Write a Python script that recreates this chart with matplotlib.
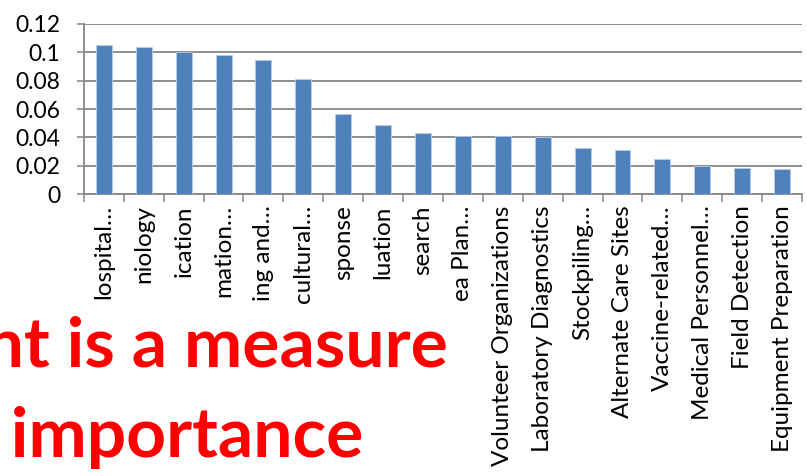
import matplotlib.pyplot as plt
from matplotlib.ticker import FixedLocator, NullFormatter

# category labels as they show under the axis (the first ten run under the caption box)
categories = ["lospital…", "niology", "ication", "mation…", "ing and…",
              "cultural…", "sponse", "luation", "search", "ea Plan…",
              "Volunteer Organizations", "Laboratory Diagnostics",
              "Stockpiling…", "Alternate Care Sites", "Vaccine-related…",
              "Medical Personnel…", "Field Detection", "Equipment Preparation"]
weights = [0.105, 0.104, 0.100, 0.0983, 0.0946, 0.0814, 0.0562, 0.0485,
           0.0433, 0.0410, 0.0407, 0.0402, 0.0322, 0.0313, 0.0247, 0.0198,
           0.0184, 0.0179]
ytick_vals = [0, 0.02, 0.04, 0.06, 0.08, 0.1, 0.12]
ytick_labels = ["0", "0.02", "0.04", "0.06", "0.08", "0.1", "0.12"]
caption = ["Weight is a measure", "of importance"]

plt.rcParams['font.family'] = ['Lato', 'DejaVu Sans']
grid_col = "#868686"

fig = plt.figure(figsize=(8.07, 4.76), dpi=100)
ax = fig.add_axes([0.104, 0.5924, 0.8898, 0.3572])

x = range(len(categories))
ax.bar(x, weights, width=0.4, color="#4f81bd", edgecolor="#b9cde5",
       linewidth=0.6, zorder=3)

ax.set_xlim(-0.5, len(categories) - 0.5)
ax.set_ylim(0, 0.12)
ax.set_yticks(ytick_vals)
ax.set_yticklabels(ytick_labels, fontsize=16.5)
ax.yaxis.grid(True, color=grid_col, linewidth=1.3)
ax.set_axisbelow(True)

ax.set_xticks(list(x))
ax.set_xticklabels(categories, rotation=90, fontsize=17.5, va="top", ha="center")
ax.xaxis.set_minor_locator(FixedLocator([i - 0.5 for i in range(len(categories) + 1)]))
ax.xaxis.set_minor_formatter(NullFormatter())
ax.tick_params(axis="x", which="major", length=0, pad=8)
ax.tick_params(axis="x", which="minor", length=6, width=1.1, color=grid_col)
ax.tick_params(axis="y", length=5, width=1.1, color=grid_col, pad=12)

for side in ["top", "right"]:
    ax.spines[side].set_visible(False)
for side in ["left", "bottom"]:
    ax.spines[side].set_color(grid_col)
    ax.spines[side].set_linewidth(1.3)

# red caption, partly running off the left edge
fig.text(0.555, 0.229, caption[0], ha="right", va="baseline",
         color="#ff0000", fontsize=50, fontweight="bold")
fig.text(0.450, 0.040, caption[1], ha="right", va="baseline",
         color="#ff0000", fontsize=50, fontweight="bold")

fig.savefig("out.png", dpi=100)
